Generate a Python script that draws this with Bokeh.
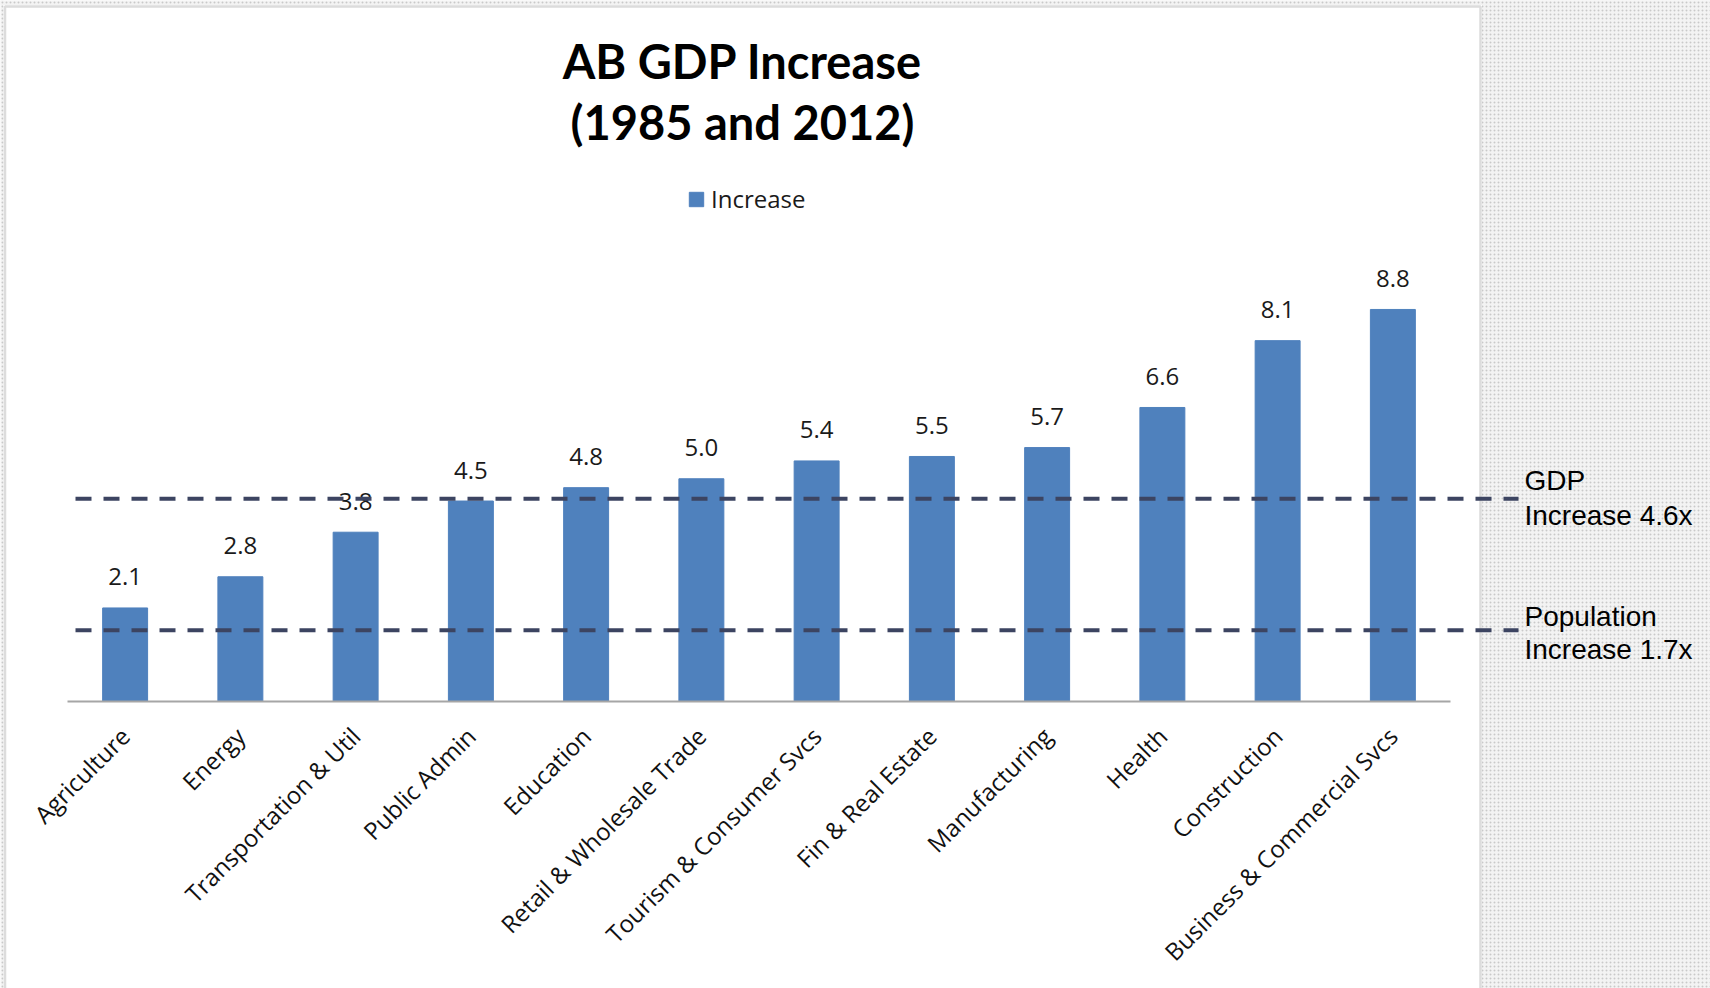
from math import pi
from bokeh.plotting import figure
from bokeh.models import (Range1d, Label, BoxAnnotation, Arrow, LinearAxis,
                          FixedTicker, Legend, LegendItem, ColumnDataSource)
from bokeh.embed import file_html
from bokeh.resources import INLINE

# ---------------- data ----------------
categories = ["Agriculture", "Energy", "Transportation & Util", "Public Admin",
              "Education", "Retail & Wholesale Trade", "Tourism & Consumer Svcs",
              "Fin & Real Estate", "Manufacturing", "Health", "Construction",
              "Business & Commercial Svcs"]
increase = [2.1, 2.8, 3.8, 4.5, 4.8, 5.0, 5.4, 5.5, 5.7, 6.6, 8.1, 8.8]
series_name = "Increase"
title_lines = ["AB GDP Increase", "(1985 and 2012)"]
ref_levels = [4.55, 1.6]          # dashed reference lines (as drawn)
ref_texts = [["GDP", "Increase 4.6x"], ["Population", "Increase 1.7x"]]

# ---------------- layout helpers (canvas px -> data) ----------------
W, H = 1710, 988
LEFT, RIGHT_EDGE = 67, 1450        # extent of the category axis in px
BOTTOM = 701                       # axis baseline in px
PPU = 44.55                        # px per unit of value
N = len(categories)
UX = (RIGHT_EDGE - LEFT) / N


def dx(px):
    return (px - LEFT) / UX - 0.5


def dy(py):
    return (BOTTOM - py) / PPU


p = figure(width=W, height=H,
           x_range=Range1d(dx(0), dx(W)), y_range=Range1d(dy(H), dy(0)),
           output_backend="svg", toolbar_location=None,
           min_border=0, min_border_left=0, min_border_right=0,
           min_border_top=0, min_border_bottom=0,
           x_axis_location=None, y_axis_location=None)
p.xgrid.visible = False
p.ygrid.visible = False
p.outline_line_color = None
p.background_fill_color = "white"
p.border_fill_color = "white"

# textured surroundings + chart box
for l, r, t, b in [(1481.5, 1800, -50, 1100), (-50, 1800, -50, 4.5), (-50, 3, -50, 1100)]:
    p.add_layout(BoxAnnotation(left=dx(l), right=dx(r), top=dy(t), bottom=dy(b),
                               fill_color="#f3f3f3", fill_alpha=1, line_color=None,
                               hatch_pattern=".", hatch_color="#b8b8b8",
                               hatch_alpha=0.7, hatch_scale=4, hatch_weight=1,
                               level="underlay"))
p.add_layout(BoxAnnotation(left=dx(4.5), right=dx(1480), top=dy(6), bottom=dy(1100),
                           fill_alpha=0, line_color="#8c8c8c", line_width=2.5,
                           level="underlay"))

xpos = list(range(N))
src = ColumnDataSource(dict(x=xpos, val=increase,
                            lbl=[f"{v:.1f}" for v in increase],
                            ly=[v + 31 / PPU for v in increase]))
bars = p.vbar(x="x", top="val", width=0.39, source=src,
              fill_color="#4f81bd", line_color="#4f81bd", line_width=1)

p.text(x="x", y="ly", text="lbl", source=src, text_font={"value": "Open Sans"},
       text_font_size="24px", text_align="center", text_baseline="alphabetic",
       text_color="#1a1a1a")

# category axis
ax = LinearAxis(fixed_location=0, ticker=FixedTicker(ticks=xpos),
                major_label_overrides={i: c for i, c in zip(xpos, categories)},
                bounds=(-0.5, N - 0.5))
ax.major_label_orientation = pi / 4
ax.major_label_text_font = "Open Sans"
ax.major_label_text_font_size = "24px"
ax.major_label_text_color = "#111111"
ax.major_tick_line_color = None
ax.minor_tick_line_color = None
ax.major_tick_out = 0
ax.major_tick_in = 0
ax.axis_line_color = "#a6a6a6"
ax.axis_line_width = 2
ax.major_label_standoff = 30
p.add_layout(ax, "below")

# legend
legend = Legend(items=[LegendItem(label=series_name, renderers=[bars])],
                location=(687, 773), orientation="horizontal",
                glyph_width=18, glyph_height=18, label_standoff=6,
                label_text_font="Open Sans", label_text_font_size="24px",
                label_text_color="#1a1a1a",
                border_line_color=None, background_fill_alpha=0,
                padding=0, margin=0)
p.add_layout(legend)

# title
for txt, base in zip(title_lines, [60.0, 121.0]):
    p.add_layout(Label(x=dx(742), y=dy(base), text=txt, text_font="Lato",
                       text_font_style="bold", text_font_size="47px",
                       text_align="center", text_baseline="alphabetic",
                       text_color="#000000"))

# reference lines
for lvl in ref_levels:
    p.add_layout(Arrow(start=None, end=None, x_start=dx(75), y_start=lvl,
                       x_end=dx(1518), y_end=lvl, line_color="#3c4461",
                       line_width=4, line_dash="16 12"))

for (l1, l2), (b1, b2) in zip(ref_texts, [(480.0, 514.5), (616.0, 648.5)]):
    for txt, base in [(l1, b1), (l2, b2)]:
        p.add_layout(Label(x=dx(1524), y=dy(base), text=txt,
                           text_font="Liberation Sans", text_font_size="28px",
                           text_align="left", text_baseline="alphabetic",
                           text_color="#000000"))

open("out.html", "w").write(file_html(p, INLINE))
